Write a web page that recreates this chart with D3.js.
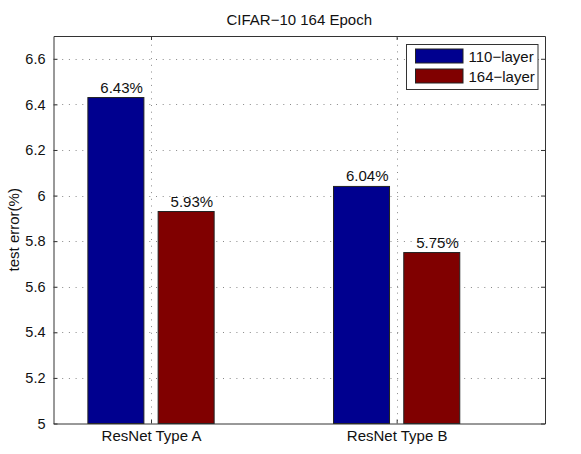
<!DOCTYPE html>
<html>
<head>
<meta charset="utf-8">
<script src="https://cdn.jsdelivr.net/npm/d3@7"></script>
<style>
  body { margin: 0; background: #fff; }
  text { font-family: "Liberation Sans", Arial, sans-serif; fill: #111; }
</style>
</head>
<body>
<script>
// chart data
var categories = ["ResNet Type A", "ResNet Type B"];
var seriesNames = ["110-layer", "164-layer"];
var series110 = [6.43, 6.04];
var series164 = [5.93, 5.75];
var yTicks = [5, 5.2, 5.4, 5.6, 5.8, 6, 6.2, 6.4, 6.6];
var colours = ["#00008f", "#800000"];

// defines the size of the SVG
var width = 581;
var height = 454;

// defines the padding for the graph
var pad = { top: 36, bottom: 30.5, left: 53.5, right: 36 };

var svg = d3.select("body")
            .append("svg")
            .attr("width", width)
            .attr("height", height);

// x in "bar units": categories sit at 1 and 2
var xScale = d3.scaleLinear()
               .domain([0.603, 2.604])
               .range([pad.left, width - pad.right]);
var yScale = d3.scaleLinear()
               .domain([5, 6.7])
               .range([height - pad.bottom, pad.top]);

var barWidth = 0.228;
var offset = 0.143;

// gridlines
var grid = svg.append("g")
              .attr("stroke", "#888")
              .attr("stroke-width", 1)
              .attr("stroke-dasharray", "1,5.7");
grid.selectAll("line.h")
    .data(yTicks.slice(1))
    .enter()
    .append("line")
    .attr("x1", pad.left + 2)
    .attr("x2", width - pad.right)
    .attr("y1", function(d){ return Math.round(yScale(d)) + 0.5; })
    .attr("y2", function(d){ return Math.round(yScale(d)) + 0.5; });
grid.selectAll("line.v")
    .data(categories)
    .enter()
    .append("line")
    .attr("x1", function(d, i){ return Math.round(xScale(i + 1)) + 0.5; })
    .attr("x2", function(d, i){ return Math.round(xScale(i + 1)) + 0.5; })
    .attr("y1", pad.top + 2)
    .attr("y2", height - pad.bottom);

// builds the bar table from the series arrays
var bars = [];
categories.forEach(function(c, i){
    bars.push({ x: i + 1 - offset, v: series110[i], s: 0 });
    bars.push({ x: i + 1 + offset, v: series164[i], s: 1 });
});

svg.selectAll("rect.bar")
   .data(bars)
   .enter()
   .append("rect")
   .attr("class", "bar")
   .attr("x", function(d){ return xScale(d.x - barWidth / 2); })
   .attr("width", xScale(barWidth) - xScale(0))
   .attr("y", function(d){ return yScale(d.v); })
   .attr("height", function(d){ return yScale(5) - yScale(d.v); })
   .attr("fill", function(d){ return colours[d.s]; })
   .attr("stroke", "#222")
   .attr("stroke-width", 1);

// value labels, right aligned to the bar
svg.selectAll("text.val")
   .data(bars)
   .enter()
   .append("text")
   .attr("x", function(d){ return xScale(d.x + barWidth / 2) - 1; })
   .attr("y", function(d){ return yScale(d.v) - 5; })
   .attr("text-anchor", "end")
   .attr("font-size", 15)
   .text(function(d){ return d.v.toFixed(2) + "%"; });

// axes
var yAxis = d3.axisLeft(yScale)
              .tickValues(yTicks)
              .tickSizeInner(-4)
              .tickSizeOuter(0)
              .tickPadding(8)
              .tickFormat(function(d){ return String(+d.toFixed(1)); });
var yAxisR = d3.axisRight(yScale)
               .tickValues(yTicks)
               .tickSizeInner(-4)
               .tickSizeOuter(0)
               .tickFormat("");
var xAxis = d3.axisBottom(xScale)
              .tickValues([1, 2])
              .tickSizeInner(-4)
              .tickSizeOuter(0)
              .tickPadding(7)
              .tickFormat(function(d){ return categories[d - 1]; });
var xAxisT = d3.axisTop(xScale)
               .tickValues([1, 2])
               .tickSizeInner(-4)
               .tickSizeOuter(0)
               .tickFormat("");

var gy = svg.append("g")
   .attr("transform", "translate(" + pad.left + ",0)")
   .call(yAxis);
var gyr = svg.append("g")
   .attr("transform", "translate(" + (width - pad.right) + ",0)")
   .call(yAxisR);
var gx = svg.append("g")
   .attr("transform", "translate(0," + (height - pad.bottom) + ")")
   .call(xAxis);
var gxt = svg.append("g")
   .attr("transform", "translate(0," + pad.top + ")")
   .call(xAxisT);

[gy, gyr, gx, gxt].forEach(function(g){
    g.selectAll("path, line").attr("stroke", "#333");
    g.selectAll("text")
     .attr("font-size", 15)
     .attr("fill", "#111")
     .attr("font-family", "Liberation Sans, Arial, sans-serif");
});
gy.selectAll("text").attr("font-size", 14.5);

// title
svg.append("text")
   .attr("x", (pad.left + width - pad.right) / 2)
   .attr("y", 24.5)
   .attr("text-anchor", "middle")
   .attr("font-size", 15)
   .text("CIFAR\u221210 164 Epoch");

// y label
svg.append("text")
   .attr("transform", "translate(18.5," + ((pad.top + height - pad.bottom) / 2) + ") rotate(-90)")
   .attr("text-anchor", "middle")
   .attr("font-size", 15)
   .text("test error(%)");

// legend
var legend = svg.append("g").attr("transform", "translate(406.5,44.5)");
legend.append("rect")
      .attr("width", 131.5)
      .attr("height", 45)
      .attr("fill", "#fff")
      .attr("stroke", "#333");
seriesNames.forEach(function(name, i){
    legend.append("rect")
          .attr("x", 9)
          .attr("y", 4.5 + i * 20)
          .attr("width", 47.5)
          .attr("height", 14)
          .attr("fill", colours[i])
          .attr("stroke", "#222");
    legend.append("text")
          .attr("x", 62)
          .attr("y", 17 + i * 20)
          .attr("font-size", 15)
          .text(name.replace("-", "\u2212"));
});
</script>
</body>
</html>
